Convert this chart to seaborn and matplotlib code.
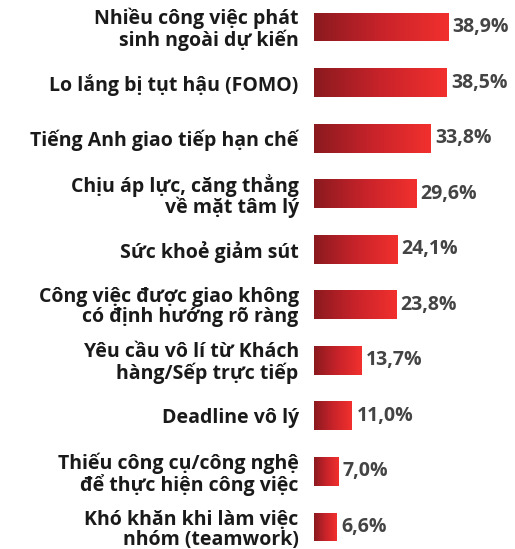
import numpy as np
import pandas as pd
import matplotlib
matplotlib.use("Agg")
import matplotlib.pyplot as plt
from matplotlib.colors import LinearSegmentedColormap
import seaborn as sns

labels = [
    "Nhiều công việc phát\nsinh ngoài dự kiến",
    "Lo lắng bị tụt hậu (FOMO)",
    "Tiếng Anh giao tiếp hạn chế",
    "Chịu áp lực, căng thẳng\nvề mặt tâm lý",
    "Sức khoẻ giảm sút",
    "Công việc được giao không\ncó định hướng rõ ràng",
    "Yêu cầu vô lí từ Khách\nhàng/Sếp trực tiếp",
    "Deadline vô lý",
    "Thiếu công cụ/công nghệ\nđể thực hiện công việc",
    "Khó khăn khi làm việc\nnhóm (teamwork)",
]
values = [38.9, 38.5, 33.8, 29.6, 24.1, 23.8, 13.7, 11.0, 7.0, 6.6]

df = pd.DataFrame({"label": labels, "value": values})

sns.set_style("white")
plt.rcParams['font.family'] = ['Open Sans', 'DejaVu Sans']

fig = plt.figure(figsize=(5.15, 5.49), dpi=100)
ax = fig.add_axes([314 / 515, 0, 1 - 314 / 515, 1])

sns.barplot(data=df, x="value", y="label", ax=ax, width=0.52, color="#e02a2a")

# gradient fill on each bar, dark red -> bright red
cmap = LinearSegmentedColormap.from_list("redgrad", ["#8a1a1f", "#c8232a", "#f2302e"])
grad = np.linspace(0, 1, 256).reshape(1, -1)
for p in ax.patches:
    x0, y0 = p.get_x(), p.get_y()
    w, h = p.get_width(), p.get_height()
    p.set_facecolor("none")
    p.set_edgecolor("none")
    im = ax.imshow(grad, cmap=cmap, aspect="auto", extent=[x0, x0 + w, y0 + h, y0],
                   interpolation="bicubic", zorder=2)
    im.set_clip_path(p)

for i, v in enumerate(values):
    ax.text(v + 1.3, i, f"{v:.1f}%".replace(".", ","), va="center", ha="left",
            fontsize=14, fontweight="bold", color="#444444")

ax.set_xlim(0, 201 / 3.45)
ax.set_ylim(9 + 22 / 55.6, -27 / 55.6)
ax.set_xlabel("")
ax.set_ylabel("")
ax.set_xticks([])
ax.set_yticks(range(len(labels)))
ax.set_yticklabels(labels, fontsize=14, fontweight="bold", color="#1a1a1a",
                   linespacing=1.0)
ax.tick_params(axis="y", length=0, pad=11)
sns.despine(ax=ax, left=True, bottom=True)

fig.savefig("out.png", dpi=100)
